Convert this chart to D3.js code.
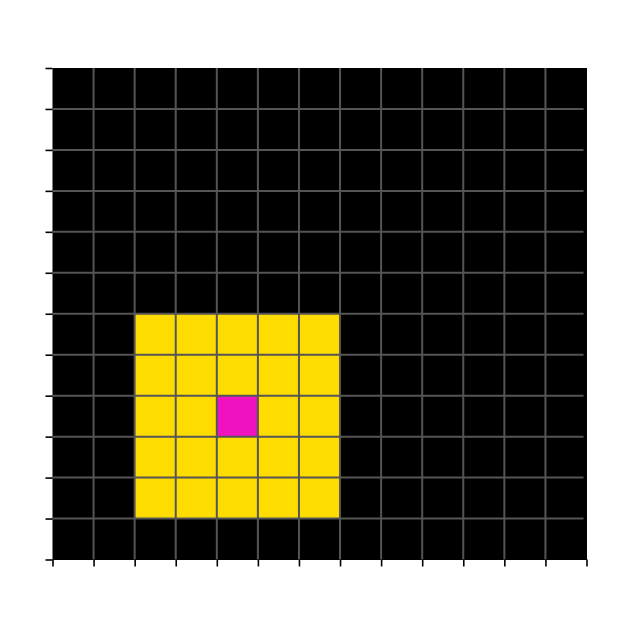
<!DOCTYPE html>
<html><head><meta charset="utf-8">
<script src="https://cdn.jsdelivr.net/npm/d3@7"></script>
<style>html,body{margin:0;padding:0;background:#fff;}</style>
</head><body>
<svg id="c" width="629" height="629"></svg>
<script>
const nCols = 13;
const nRows = 12;
// grid values: 0 = black, 1 = yellow, 2 = magenta
const gridRows = [
  [0,0,0,0,0,0,0,0,0,0,0,0,0],
  [0,0,0,0,0,0,0,0,0,0,0,0,0],
  [0,0,0,0,0,0,0,0,0,0,0,0,0],
  [0,0,0,0,0,0,0,0,0,0,0,0,0],
  [0,0,0,0,0,0,0,0,0,0,0,0,0],
  [0,0,0,0,0,0,0,0,0,0,0,0,0],
  [0,0,1,1,1,1,1,0,0,0,0,0,0],
  [0,0,1,1,1,1,1,0,0,0,0,0,0],
  [0,0,1,1,2,1,1,0,0,0,0,0,0],
  [0,0,1,1,1,1,1,0,0,0,0,0,0],
  [0,0,1,1,1,1,1,0,0,0,0,0,0],
  [0,0,0,0,0,0,0,0,0,0,0,0,0]
];
const palette = ["#000000", "#FFDC00", "#F012BE"];
const xTicks = d3.range(0, nCols + 1);
const yTicks = d3.range(0, nRows + 1);

const svg = d3.select("#c");
const x = d3.scaleLinear().domain([0, nCols]).range([52.5, 586.5]);
const y = d3.scaleLinear().domain([0, nRows]).range([68, 559.5]);

const cells = [];
gridRows.forEach((row, r) => row.forEach((v, c) => cells.push({r, c, v})));

svg.append("g").selectAll("rect").data(cells).join("rect")
  .attr("x", d => x(d.c)).attr("y", d => y(d.r))
  .attr("width", d => x(d.c + 1) - x(d.c) + 0.5)
  .attr("height", d => y(d.r + 1) - y(d.r) + 0.5)
  .attr("fill", d => palette[d.v]);

const g = svg.append("g").attr("stroke", "#555555").attr("stroke-width", 2);
g.selectAll("line.v").data(xTicks.slice(1, -1)).join("line").attr("class","v")
  .attr("x1", d => x(d)).attr("x2", d => x(d)).attr("y1", y(0)).attr("y2", y(nRows));
g.selectAll("line.h").data(yTicks.slice(1, -1)).join("line").attr("class","h")
  .attr("y1", d => y(d)).attr("y2", d => y(d)).attr("x1", x(0)).attr("x2", x(nCols) - 3);

const ax = svg.append("g").attr("transform", `translate(0,${y(nRows)})`)
  .call(d3.axisBottom(x).tickValues(xTicks).tickSize(7).tickFormat(""));
const ay = svg.append("g").attr("transform", `translate(${x(0)},0)`)
  .call(d3.axisLeft(y).tickValues(yTicks).tickSize(7).tickFormat(""));
[ax, ay].forEach(a => {
  a.select(".domain").remove();
  a.selectAll(".tick line").attr("stroke", "#000").attr("stroke-width", 1.6);
});
</script>
</body></html>
